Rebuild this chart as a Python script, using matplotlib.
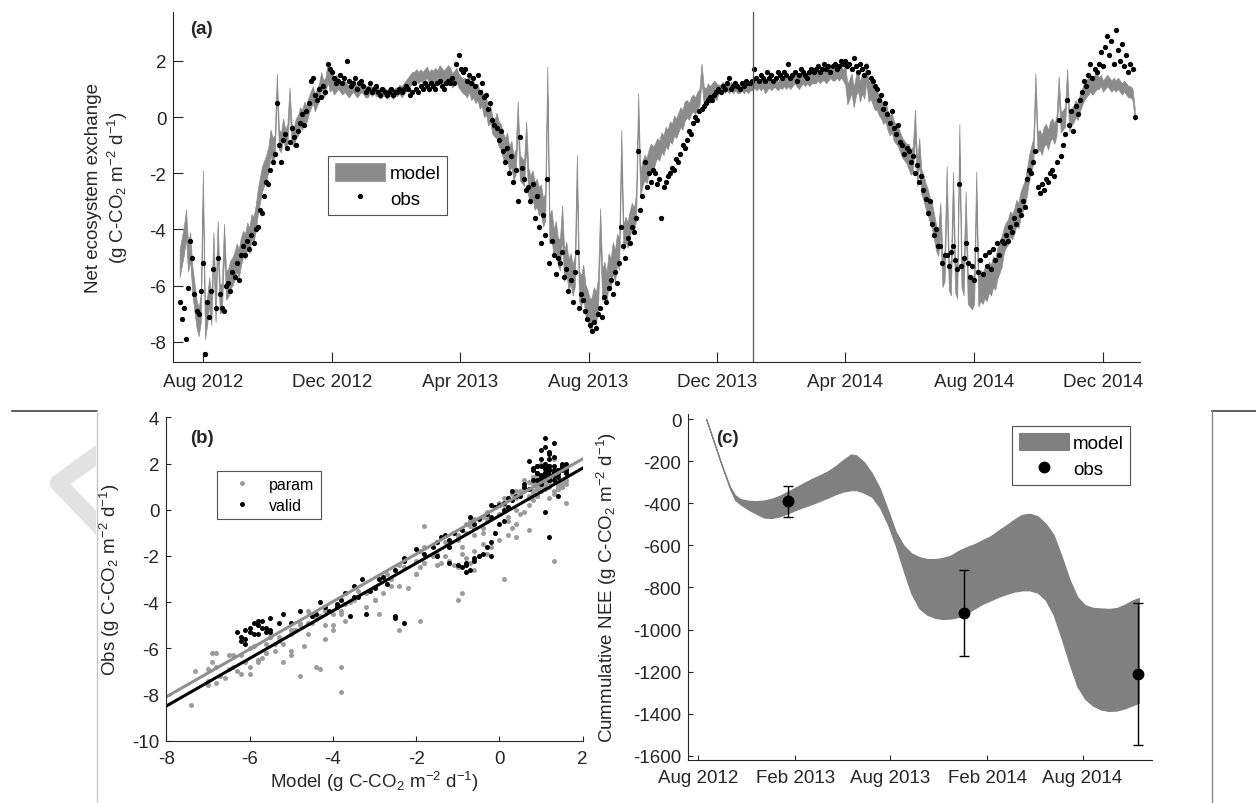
import numpy as np
import matplotlib
matplotlib.use("Agg")
import matplotlib.pyplot as plt
import matplotlib.dates as mdates
from matplotlib.lines import Line2D
from matplotlib.patches import Rectangle

plt.rcParams['font.family'] = ['Liberation Sans', 'DejaVu Sans']
plt.rcParams['mathtext.fontset'] = 'custom'
plt.rcParams['mathtext.rm'] = 'Liberation Sans'
plt.rcParams['mathtext.default'] = 'regular'
plt.rcParams['axes.unicode_minus'] = False

# ---- daily NEE, one value every 2 days from 10 Jul 2012 (rows = 30 days) ----
start = np.datetime64('2012-07-10')
step_days = 2
switch_date = np.datetime64('2014-01-04')   # param / valid split

obs = [
    -6.6, -7.2, -6.8, -7.9, -6.1, -4.4, -5.0, -6.3, -6.9, -7.0, -6.2, -5.2, -8.45, -6.6, -7.1,
    -6.2, -5.4, -6.8, -5.0, -6.3, -6.8, -6.9, -6.0, -5.9, -6.2, -5.5, -5.7, -5.2, -5.8, -4.9,
    -4.6, -4.9, -4.4, -4.7, -4.2, -4.5, -4.0, -3.9, -3.3, -3.4, -2.8, -2.3, -2.4, -1.9, -1.6,
    -1.3, 0.5, -1.0, -1.6, -0.8, -0.6, -1.1, -0.9, -0.4, -0.7, -1.0, -0.5, -0.2, 0.1, -0.3,
    0.2, 0.5, 1.3, 1.4, 0.8, 0.6, 1.0, 0.7, 1.1, 0.9, 1.9, 1.7, 1.6, 1.4, 1.2,
    1.3, 1.5, 1.2, 1.4, 2.0, 1.3, 1.1, 1.2, 1.4, 1.0, 1.2, 1.3, 1.1, 0.9, 1.0,
    1.2, 0.9, 1.0, 1.1, 0.9, 0.8, 1.0, 0.9, 0.8, 0.9, 1.0, 0.8, 0.9, 0.9, 1.0,
    0.9, 1.0, 1.1, 1.0, 0.8, 0.9, 1.2, 1.0, 0.9, 1.1, 1.0, 1.2, 1.1, 1.0, 1.2,
    1.1, 1.0, 1.2, 1.3, 1.1, 1.0, 1.2, 1.3, 1.2, 1.4, 1.2, 1.9, 2.2, 1.7, 1.6,
    1.7, 1.3, 1.5, 1.2, 1.4, 1.1, 1.5, 0.9, 1.2, 0.7, 0.8, 0.3, 0.5, -0.1, -0.3,
    -0.4, -0.8, -0.5, -1.2, -1.6, -1.1, -2.0, -1.4, -2.3, -1.9, -3.0, -0.7, -1.8, -2.2, -2.6,
    -2.5, -3.0, -2.4, -3.6, -2.8, -3.9, -4.5, -3.5, -4.2, -2.2, -5.2, -4.4, -4.9, -5.6, -5.0,
    -5.2, -4.8, -5.7, -5.4, -6.2, -5.8, -6.6, -5.5, -4.8, -6.8, -6.3, -6.5, -6.9, -7.2, -7.4,
    -7.6, -7.3, -7.5, -7.0, -6.8, -7.1, -6.4, -6.6, -6.1, -5.8, -6.3, -5.5, -5.9, -5.2, -3.9,
    -4.6, -5.0, -4.3, -4.5, -3.9, -4.1, -3.6, -1.2, -3.3, -2.8, -1.6, -2.5, -2.0, -2.3, -1.9,
    -2.0, -2.4, -2.2, -3.6, -2.5, -2.3, -2.1, -2.0, -1.8, -1.9, -1.5, -1.6, -1.3, -1.0, -1.1,
    -0.8, -0.5, -0.6, -0.2, 0.0, -0.1, 0.2, 0.3, 0.4, 0.5, 0.6, 0.7, 0.6, 0.8, 0.9,
    1.0, 0.9, 1.1, 1.0, 1.2, 1.4, 1.0, 1.1, 1.2, 1.1, 1.0, 1.2, 1.1, 1.3, 1.2,
    1.2, 1.3, 1.7, 1.4, 1.3, 1.5, 1.4, 1.3, 1.6, 1.4, 1.5, 1.3, 1.4, 1.6, 1.5,
    1.4, 1.6, 1.5, 1.9, 1.4, 1.5, 1.6, 1.3, 1.5, 1.7, 1.6, 1.5, 1.4, 1.6, 1.7,
    1.6, 1.7, 1.8, 1.6, 1.7, 1.9, 1.7, 1.8, 1.6, 1.8, 1.9, 1.7, 1.8, 2.0, 1.9,
    2.0, 1.8, 1.9, 1.7, 2.1, 1.8, 1.6, 1.9, 1.7, 1.5, 1.8, 1.6, 1.4, 1.3, 1.1,
    1.0, 0.6, 0.8, 0.3, 0.5, 0.1, -0.2, 0.2, -0.4, -0.6, -0.3, -0.9, -1.0, -1.3, -1.1,
    -1.2, -1.6, -1.4, -2.0, -1.7, -2.3, -2.1, -2.6, -2.9, -3.4, -3.0, -3.8, -4.2, -4.0, -4.6,
    -4.6, -5.2, -4.9, -4.9, -5.3, -4.8, -4.6, -5.1, -5.4, -2.4, -5.3, -5.0, -4.5, -5.2, -5.7,
    -5.3, -5.8, -4.7, -5.5, -5.1, -5.6, -4.9, -5.3, -4.8, -5.4, -4.7, -5.1, -4.5, -4.9, -4.4,
    -4.5, -4.2, -4.4, -3.9, -4.1, -3.6, -3.8, -3.3, -3.5, -3.0, -3.2, -2.2, -1.9, -2.0, -1.6,
    -1.2, -2.5, -2.7, -2.4, -2.6, -2.2, -2.3, -2.0, -1.9, -2.1, -1.6, -0.1, -1.4, -1.0, -0.6,
    0.6, -0.3, 0.2, -0.5, 0.4, 0.1, 0.6, 0.9, 1.3, 1.1, 1.5, 1.9, 1.4, 1.7, 1.6,
    1.9, 2.3, 1.8, 2.5, 2.9, 2.2, 2.7, 1.9, 3.1, 2.4, 2.0, 2.6, 1.8, 2.2, 1.6,
    1.9, 1.7, 0.0,
]

model = [
    -5.2, -4.8, -4.4, -3.8, -5.0, -4.6, -5.8, -6.4, -7.0, -7.3, -6.8, -2.4, -7.4, -6.9, -6.2,
    -6.9, -4.6, -6.8, -4.2, -6.5, -6.4, -4.3, -6.0, -5.9, -5.6, -5.5, -5.3, -5.0, -5.2, -4.8,
    -4.5, -4.6, -4.2, -4.4, -3.9, -4.0, -3.6, -3.0, -2.6, -2.2, -2.0, -1.8, -1.5, -0.9, -1.2,
    -1.0, 1.2, -0.8, -0.9, -0.4, -0.8, -0.6, 0.7, -0.6, -0.7, -0.4, -0.3, 0.0, -0.1, 0.2,
    0.1, 0.4, 0.6, 0.8, 0.5, 0.7, 0.9, 1.3, 1.0, 1.1, 1.6, 1.2, 1.3, 1.1, 1.2,
    1.2, 1.1, 1.0, 1.1, 1.0, 0.9, 1.0, 1.1, 1.0, 0.9, 1.0, 1.1, 1.0, 0.9, 0.9,
    1.0, 0.9, 1.0, 0.9, 0.9, 0.8, 0.9, 0.9, 0.8, 0.9, 0.9, 0.8, 0.9, 0.9, 1.0,
    0.9, 1.0, 1.1, 1.2, 1.3, 1.4, 1.4, 1.5, 1.4, 1.5, 1.4, 1.5, 1.6, 1.4, 1.5,
    1.4, 1.5, 1.4, 1.6, 1.5, 1.4, 1.5, 1.6, 1.5, 1.3, 1.4, 1.5, 1.3, 1.2, 1.1,
    1.1, 1.0, 1.2, 0.9, 1.0, 0.8, 0.9, 0.6, 0.7, 0.3, 0.4, 0.0, 0.1, -0.3, -0.4,
    -0.3, -0.6, -0.7, -1.0, -1.2, -1.0, -1.5, -1.3, -1.8, -1.6, 0.1, -1.8, -1.9, -2.0, -0.6,
    -2.3, -2.6, -2.4, -2.8, -2.7, -3.0, -2.9, -3.4, -3.2, 1.3, -4.0, -3.8, -4.5, -4.2, -4.8,
    -4.9, -3.7, -5.3, -5.0, -5.6, -5.4, -5.8, -5.5, -1.9, -6.0, -6.2, -5.8, -6.5, -6.7, -7.0,
    -7.0, -6.6, -6.8, -6.3, -3.8, -6.0, -5.7, -6.1, -5.4, -5.6, -5.0, -5.3, -4.7, -4.9, -1.0,
    -4.3, -4.0, -4.2, -3.8, -3.5, -3.7, -3.2, 0.4, -2.4, -2.0, -1.8, -1.9, -1.6, -1.4, -1.5,
    -1.3, -1.1, -1.2, -0.9, -1.0, -0.7, -0.8, -0.5, -0.6, -0.3, -0.4, -0.2, 0.0, -0.1, 0.2,
    0.3, 0.2, 0.4, 0.5, 0.4, 0.6, 0.7, 1.6, 0.8, 0.7, 0.9, 0.8, 0.9, 1.0, 0.9,
    1.0, 1.0, 1.1, 1.0, 1.1, 1.0, 1.1, 1.0, 1.1, 1.0, 1.0, 1.1, 1.0, 1.1, 1.0,
    1.1, 1.1, 1.2, 1.1, 1.2, 1.1, 1.2, 1.0, 1.1, 1.2, 1.1, 1.2, 1.2, 1.1, 1.2,
    1.2, 1.3, 1.2, 1.3, 1.2, 1.3, 1.4, 1.3, 1.2, 1.3, 1.4, 1.3, 1.4, 1.3, 1.4,
    1.4, 1.4, 1.5, 1.4, 1.5, 1.5, 1.4, 1.5, 1.6, 1.5, 1.5, 1.6, 1.5, 1.6, 1.5,
    1.5, 0.8, 1.0, 1.2, 0.7, 1.1, 1.3, 0.9, 1.2, 1.0, 1.6, 0.9, 1.0, 0.8, 0.6,
    0.6, 0.4, 0.3, 0.1, 0.2, -0.1, -0.3, -0.2, -0.5, -0.6, -0.7, -0.9, -1.1, -1.2, -1.3,
    -1.4, -1.6, -1.5, -0.2, -2.0, -1.2, -2.3, -2.5, -2.8, -3.0, -3.3, -3.5, -3.9, -4.3, -4.5,
    -3.6, -5.5, -5.3, -2.3, -5.6, -5.8, -2.5, -5.7, -5.9, -0.8, -5.5, -5.8, -3.2, -6.1, -6.2,
    -6.3, -6.1, -2.5, -6.2, -6.0, -6.1, -5.9, -6.0, -5.7, -5.8, -5.5, -5.6, -5.2, -5.0, -4.8,
    -4.4, -4.2, -4.1, -3.8, -3.9, -3.7, -3.4, -3.5, -3.1, -2.9, -2.7, -2.3, -1.8, -1.5, -1.2,
    1.2, -0.9, -0.8, -1.0, -0.7, -0.6, -0.8, -0.5, -0.4, -0.6, -0.3, 1.1, -0.2, -0.1, 0.0,
    1.4, -0.2, 0.0, 0.1, 0.3, 0.2, 0.5, 0.7, 0.9, 1.0, 1.1, 1.2, 1.1, 1.2, 1.3,
    1.2, 1.3, 1.1, 1.2, 1.3, 1.2, 1.1, 1.2, 1.1, 1.2, 1.1, 1.0, 1.1, 1.0, 0.9,
    0.9, 0.8, 0.1,
]

# half width of the model range, one value per 30-day row above
model_halfwidth = [0.5, 0.5, 0.45, 0.35, 0.3, 0.2, 0.15, 0.2, 0.25, 0.3, 0.45,
                   0.5, 0.55, 0.55, 0.45, 0.35, 0.3, 0.15, 0.15, 0.2, 0.2, 0.35,
                   0.35, 0.45, 0.55, 0.55, 0.45, 0.35, 0.3, 0.2, 0.2]

# regression lines of panel (b): slope, intercept
param_fit = [1.03, 0.14]
valid_fit = [1.03, -0.26]

# ---- cumulative NEE (panel c), days after 1 Aug 2012 ----
cum_origin = np.datetime64('2012-08-01')
cum_day = [15, 30, 45, 60, 70, 80, 95, 110, 125, 140, 155, 170, 185, 200,
           215, 230, 245, 260, 275, 290, 300, 315, 330, 345, 360, 375, 390,
           405, 420, 435, 450, 465, 480, 495, 510, 525, 540, 555, 570, 585,
           600, 615, 630, 645, 660, 675, 690, 705, 720, 735, 750, 765, 780,
           795, 810, 825, 837]
cum_upper = [0, -110, -220, -320, -362, -380, -388, -390, -387, -378, -364,
             -345, -325, -305, -285, -268, -250, -225, -195, -168, -172, -205,
             -258, -330, -430, -535, -600, -638, -656, -665, -665, -660, -648,
             -625, -608, -594, -575, -557, -530, -505, -478, -455, -450, -462,
             -497, -550, -650, -760, -845, -885, -897, -900, -902, -898, -882,
             -862, -850]
cum_lower = [0, -112, -225, -330, -385, -405, -430, -450, -468, -470, -462,
             -448, -432, -418, -405, -390, -375, -358, -345, -338, -338, -350,
             -370, -420, -500, -600, -720, -830, -900, -930, -945, -950, -948,
             -940, -922, -900, -878, -862, -845, -832, -820, -814, -814, -825,
             -860, -930, -1040, -1160, -1270, -1330, -1362, -1380, -1387, -1385,
             -1375, -1360, -1348]
cum_obs_day = [171, 504, 836]
cum_obs = [-391, -921, -1211]
cum_obs_low = [-464, -1124, -1549]
cum_obs_high = [-317, -716, -876]

# ------------------------------------------------------------------
TXT = '#262626'
FS = 13.5
UNIT = '(g C-CO$_2$ m$^{-2}$ d$^{-1}$)'
W, H = 1256, 804

fig = plt.figure(figsize=(W / 100, H / 100), dpi=100)


def add_ax(l, t, r, b):
    return fig.add_axes([l / W, 1 - b / H, (r - l) / W, (b - t) / H])


def matlab_look(ax, ticklen, xpad):
    for s in ['top', 'right']:
        ax.spines[s].set_visible(False)
    for s in ['left', 'bottom']:
        ax.spines[s].set_color(TXT)
        ax.spines[s].set_linewidth(0.8)
    ax.tick_params(direction='in', length=ticklen, width=0.8, colors=TXT,
                   labelsize=FS)
    ax.tick_params(axis='y', pad=5)
    ax.tick_params(axis='x', pad=xpad)


obs = np.array(obs, float)
model = np.array(model, float)
t = start + np.arange(len(obs)) * np.timedelta64(step_days, 'D')
hw = np.repeat(model_halfwidth, 15)[:len(obs)]

# ---------------- (a) time series ----------------
ax_a = add_ax(173.3, 12.7, 1140, 363.3)
ax_a.fill_between(t, model - hw, model + hw, facecolor='#8c8c8c',
                  edgecolor='#8c8c8c', lw=0.5, label='model')
ax_a.plot(t, obs, 'o', color='k', ms=3.8, mew=0, label='obs')
ax_a.axvline(switch_date, color='#555555', lw=0.9)
ax_a.set_xlim(np.datetime64('2012-07-04'), np.datetime64('2015-01-05'))
ax_a.set_ylim(-8.73, 3.75)
ax_a.set_yticks([-8, -6, -4, -2, 0, 2])
ax_a.xaxis.set_major_locator(mdates.MonthLocator(bymonth=[4, 8, 12]))
ax_a.xaxis.set_major_formatter(mdates.DateFormatter('%b %Y'))
matlab_look(ax_a, 7, 8)
ax_a.set_ylabel('Net ecosystem exchange\n' + UNIT, fontsize=FS, color=TXT,
                multialignment='center')
ax_a.yaxis.set_label_coords(-0.045, 0.5)
ax_a.text(0.017, 0.975, '(a)', transform=ax_a.transAxes, fontsize=FS,
          fontweight='bold', va='top', color=TXT)
leg = ax_a.legend(loc='upper left', bbox_to_anchor=(0.16, 0.588), fontsize=FS,
                  frameon=True, fancybox=False, edgecolor=TXT, numpoints=1,
                  handlelength=2.7, handleheight=1.1, borderpad=0.35,
                  labelspacing=0.35, handletextpad=0.25, borderaxespad=0)
leg.get_frame().set_linewidth(0.8)

# ---------------- (b) model vs obs ----------------
ax_b = add_ax(166.3, 418.3, 582.7, 741.7)
is_param = t < switch_date
ax_b.plot(model[is_param], obs[is_param], 'o', color='#9c9c9c', ms=3.6, mew=0,
          label='param')
ax_b.plot(model[~is_param], obs[~is_param], 'o', color='k', ms=3.6, mew=0,
          label='valid')
xx = np.array([-8.0, 2.0])
ax_b.plot(xx, np.polyval(param_fit, xx), color='#8f8f8f', lw=2.2)
ax_b.plot(xx, np.polyval(valid_fit, xx), color='k', lw=2.2)
ax_b.set_xlim(-8, 2)
ax_b.set_ylim(-10, 4)
ax_b.set_xticks([-8, -6, -4, -2, 0, 2])
ax_b.set_yticks([-10, -8, -6, -4, -2, 0, 2, 4])
matlab_look(ax_b, 3.5, 6.5)
ax_b.set_xlabel('Model ' + UNIT, fontsize=FS, color=TXT)
ax_b.xaxis.set_label_coords(0.5, -0.088)
ax_b.set_ylabel('Obs ' + UNIT, fontsize=FS, color=TXT)
ax_b.yaxis.set_label_coords(-0.106, 0.5)
ax_b.text(0.057, 0.965, '(b)', transform=ax_b.transAxes, fontsize=FS,
          fontweight='bold', va='top', color=TXT)
leg = ax_b.legend(loc='upper left', bbox_to_anchor=(0.121, 0.835), fontsize=11.5,
                  frameon=True, fancybox=False, edgecolor=TXT, numpoints=1,
                  handlelength=2.4, borderpad=0.4, labelspacing=0.35,
                  handletextpad=0.5, borderaxespad=0)
leg.get_frame().set_linewidth(0.8)

# ---------------- (c) cumulative NEE ----------------
ax_c = add_ax(688.3, 415, 1152, 761)
cum_t = cum_origin + np.array(cum_day).astype('timedelta64[D]')
ax_c.fill_between(cum_t, cum_lower, cum_upper, facecolor='#808080',
                  edgecolor='#808080', lw=0.8, label='model')
obs_t = cum_origin + np.array(cum_obs_day).astype('timedelta64[D]')
cum_obs = np.array(cum_obs, float)
yerr = [cum_obs - np.array(cum_obs_low), np.array(cum_obs_high) - cum_obs]
ax_c.errorbar(obs_t, cum_obs, yerr=yerr, fmt='o', color='k', ms=7.5,
              elinewidth=1.0, capsize=3.5, capthick=1.0)
ax_c.set_xlim(np.datetime64('2012-07-13'), np.datetime64('2014-12-11'))
ax_c.set_ylim(-1620, 24)
ax_c.set_yticks(np.arange(-1600, 1, 200))
ax_c.xaxis.set_major_locator(mdates.MonthLocator(bymonth=[2, 8]))
ax_c.xaxis.set_major_formatter(mdates.DateFormatter('%b %Y'))
matlab_look(ax_c, 3.5, 6.5)
ax_c.set_ylabel('Cummulative NEE ' + UNIT, fontsize=FS, color=TXT)
ax_c.yaxis.set_label_coords(-0.149, 0.5)
ax_c.text(0.061, 0.957, '(c)', transform=ax_c.transAxes, fontsize=FS,
          fontweight='bold', va='top', color=TXT)
handles = [ax_c.collections[0],
           Line2D([], [], ls='none', marker='o', color='k', ms=7.5)]
leg = ax_c.legend(handles, ['model', 'obs'], loc='upper left',
                  bbox_to_anchor=(0.698, 0.965), fontsize=FS, frameon=True,
                  fancybox=False, edgecolor=TXT, handlelength=2.7,
                  handleheight=1.05, borderpad=0.35, labelspacing=0.4,
                  handletextpad=0.2, borderaxespad=0)
leg.get_frame().set_linewidth(0.8)

# ---------------- page remnants around the figure ----------------
top_y = 1 - 411.7 / H
fig.add_artist(Line2D([11.7 / W, 96.7 / W], [top_y, top_y], color='#444444', lw=1.2))
fig.add_artist(Line2D([96.7 / W, 96.7 / W], [top_y, 0], color='#c8c8c8', lw=1.0))
fig.add_artist(Line2D([1212.3 / W, 1], [top_y, top_y], color='#444444', lw=1.2))
fig.add_artist(Line2D([1212.3 / W, 1212.3 / W], [top_y, 0], color='#888888', lw=1.0))
chev = Line2D([102 / W, 58 / W, 102 / W], [1 - 452 / H, 1 - 484 / H, 1 - 530 / H],
              color='#e2e2e2', lw=12, solid_joinstyle='round',
              solid_capstyle='butt')
fig.add_artist(chev)
chev.set_clip_path(Rectangle((0, 0), 96 / W, 1, transform=fig.transFigure))

fig.savefig('out.png', dpi=100)
